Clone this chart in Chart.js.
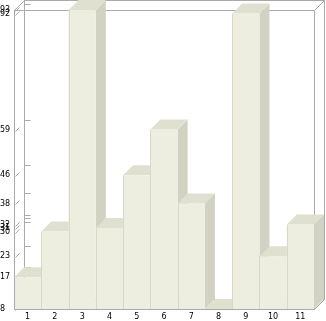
<!DOCTYPE html>
<html>
<head>
<meta charset="utf-8">
<script src="https://cdn.jsdelivr.net/npm/chart.js@4.4.0/dist/chart.umd.min.js"></script>
<style>
  html, body { margin: 0; padding: 0; background: #fff; }
  canvas { display: block; }
</style>
</head>
<body>
<canvas id="chart" width="326" height="321"></canvas>
<script>
// values
const categories = ['1', '2', '3', '4', '5', '6', '7', '8', '9', '10', '11'];
const values = [17, 30, 93, 31, 46, 59, 38, 8, 92, 23, 32];
const yTicks = [8, 17, 23, 30, 31, 32, 38, 46, 59, 92, 93];

const DEPTH = 10;
const colors = {
    front: '#edede0',
    top: '#e0e0d0',
    side: '#d2d2c2',
    seam: '#d8d8c8',
    frame: '#aaaaaa'
};

function line(ctx, x1, y1, x2, y2) {
    ctx.beginPath();
    ctx.moveTo(x1, y1);
    ctx.lineTo(x2, y2);
    ctx.stroke();
}

// draws the box and the 3d faces of the bars
const box3d = {
    id: 'box3d',
    beforeDatasetsDraw(chart) {
        const ctx = chart.ctx;
        const a = chart.chartArea;
        const y = chart.scales.y;
        const L = Math.round(a.left) + 0.5, R = Math.round(a.right) + 0.5;
        const T = Math.round(a.top) + 0.5, B = Math.round(a.bottom) + 0.5;
        ctx.save();
        ctx.strokeStyle = colors.frame;
        ctx.lineWidth = 1;
        ctx.strokeRect(L + DEPTH, T - DEPTH, R - L, B - T);
        line(ctx, L, T, R, T);
        line(ctx, R, T, R, B);
        line(ctx, L, T, L + DEPTH, T - DEPTH);
        line(ctx, R, T, R + DEPTH, T - DEPTH);
        line(ctx, L, B, L + DEPTH, B - DEPTH);
        line(ctx, R, B, R + DEPTH, B - DEPTH);
        yTicks.forEach(v => {
            const py = Math.round(y.getPixelForValue(v)) + 0.5;
            line(ctx, L + DEPTH, py - DEPTH, L + DEPTH + 6, py - DEPTH);
            line(ctx, L + 1, py + 1, L + 5, py - 3);
        });
        ctx.restore();
    },
    afterDatasetsDraw(chart) {
        const ctx = chart.ctx;
        const a = chart.chartArea;
        const meta = chart.getDatasetMeta(0);
        const floor = a.bottom;
        ctx.save();
        meta.data.forEach((bar, i) => {
            const p = bar.getProps(['x', 'y', 'width'], true);
            const l = p.x - p.width / 2, r = p.x + p.width / 2;
            const top = Math.min(p.y, floor);
            ctx.fillStyle = colors.side;
            ctx.beginPath();
            ctx.moveTo(r, top);
            ctx.lineTo(r + DEPTH, top - DEPTH);
            ctx.lineTo(r + DEPTH, floor - DEPTH);
            ctx.lineTo(r, floor);
            ctx.closePath();
            ctx.fill();
            ctx.fillStyle = colors.top;
            ctx.beginPath();
            ctx.moveTo(l, top);
            ctx.lineTo(r, top);
            ctx.lineTo(r + DEPTH, top - DEPTH);
            ctx.lineTo(l + DEPTH, top - DEPTH);
            ctx.closePath();
            ctx.fill();
            ctx.fillStyle = colors.front;
            ctx.fillRect(l, top, r - l, floor - top);
            if (i > 0 && floor - top > 0) {
                ctx.strokeStyle = colors.seam;
                line(ctx, Math.round(l) + 0.5, top, Math.round(l) + 0.5, floor);
            }
        });
        const L = Math.round(a.left) + 0.5, R = Math.round(a.right) + 0.5;
        const B = Math.round(a.bottom) + 0.5;
        ctx.strokeStyle = colors.frame;
        line(ctx, L, a.top, L, B);
        line(ctx, L, B, R, B);
        line(ctx, R, B, R + DEPTH, B - DEPTH);
        ctx.restore();
    }
};

new Chart(document.getElementById('chart'), {
    type: 'bar',
    data: {
        labels: categories,
        datasets: [{
            data: values,
            backgroundColor: 'rgba(0,0,0,0)',
            borderWidth: 0,
            categoryPercentage: 1,
            barPercentage: 1
        }]
    },
    options: {
        responsive: false,
        animation: false,
        layout: { padding: { top: 10, right: 12, left: 0, bottom: 0 } },
        plugins: {
            legend: { display: false },
            tooltip: { enabled: false }
        },
        scales: {
            x: {
                grid: { display: false, drawTicks: false },
                border: { display: false },
                ticks: {
                    color: '#000',
                    padding: 3,
                    maxRotation: 0,
                    font: { family: 'DejaVu Sans', size: 8 }
                },
                afterFit: s => { s.height = 12; }
            },
            y: {
                min: 8,
                max: 93,
                grid: { display: false, drawTicks: false },
                border: { display: false },
                afterBuildTicks: s => { s.ticks = yTicks.map(v => ({ value: v })); },
                ticks: {
                    autoSkip: false,
                    crossAlign: 'far',
                    color: '#000',
                    padding: 3,
                    font: { family: 'DejaVu Sans', size: 8 }
                },
                afterFit: s => { s.width = 14; }
            }
        }
    },
    plugins: [box3d]
});
</script>
</body>
</html>
